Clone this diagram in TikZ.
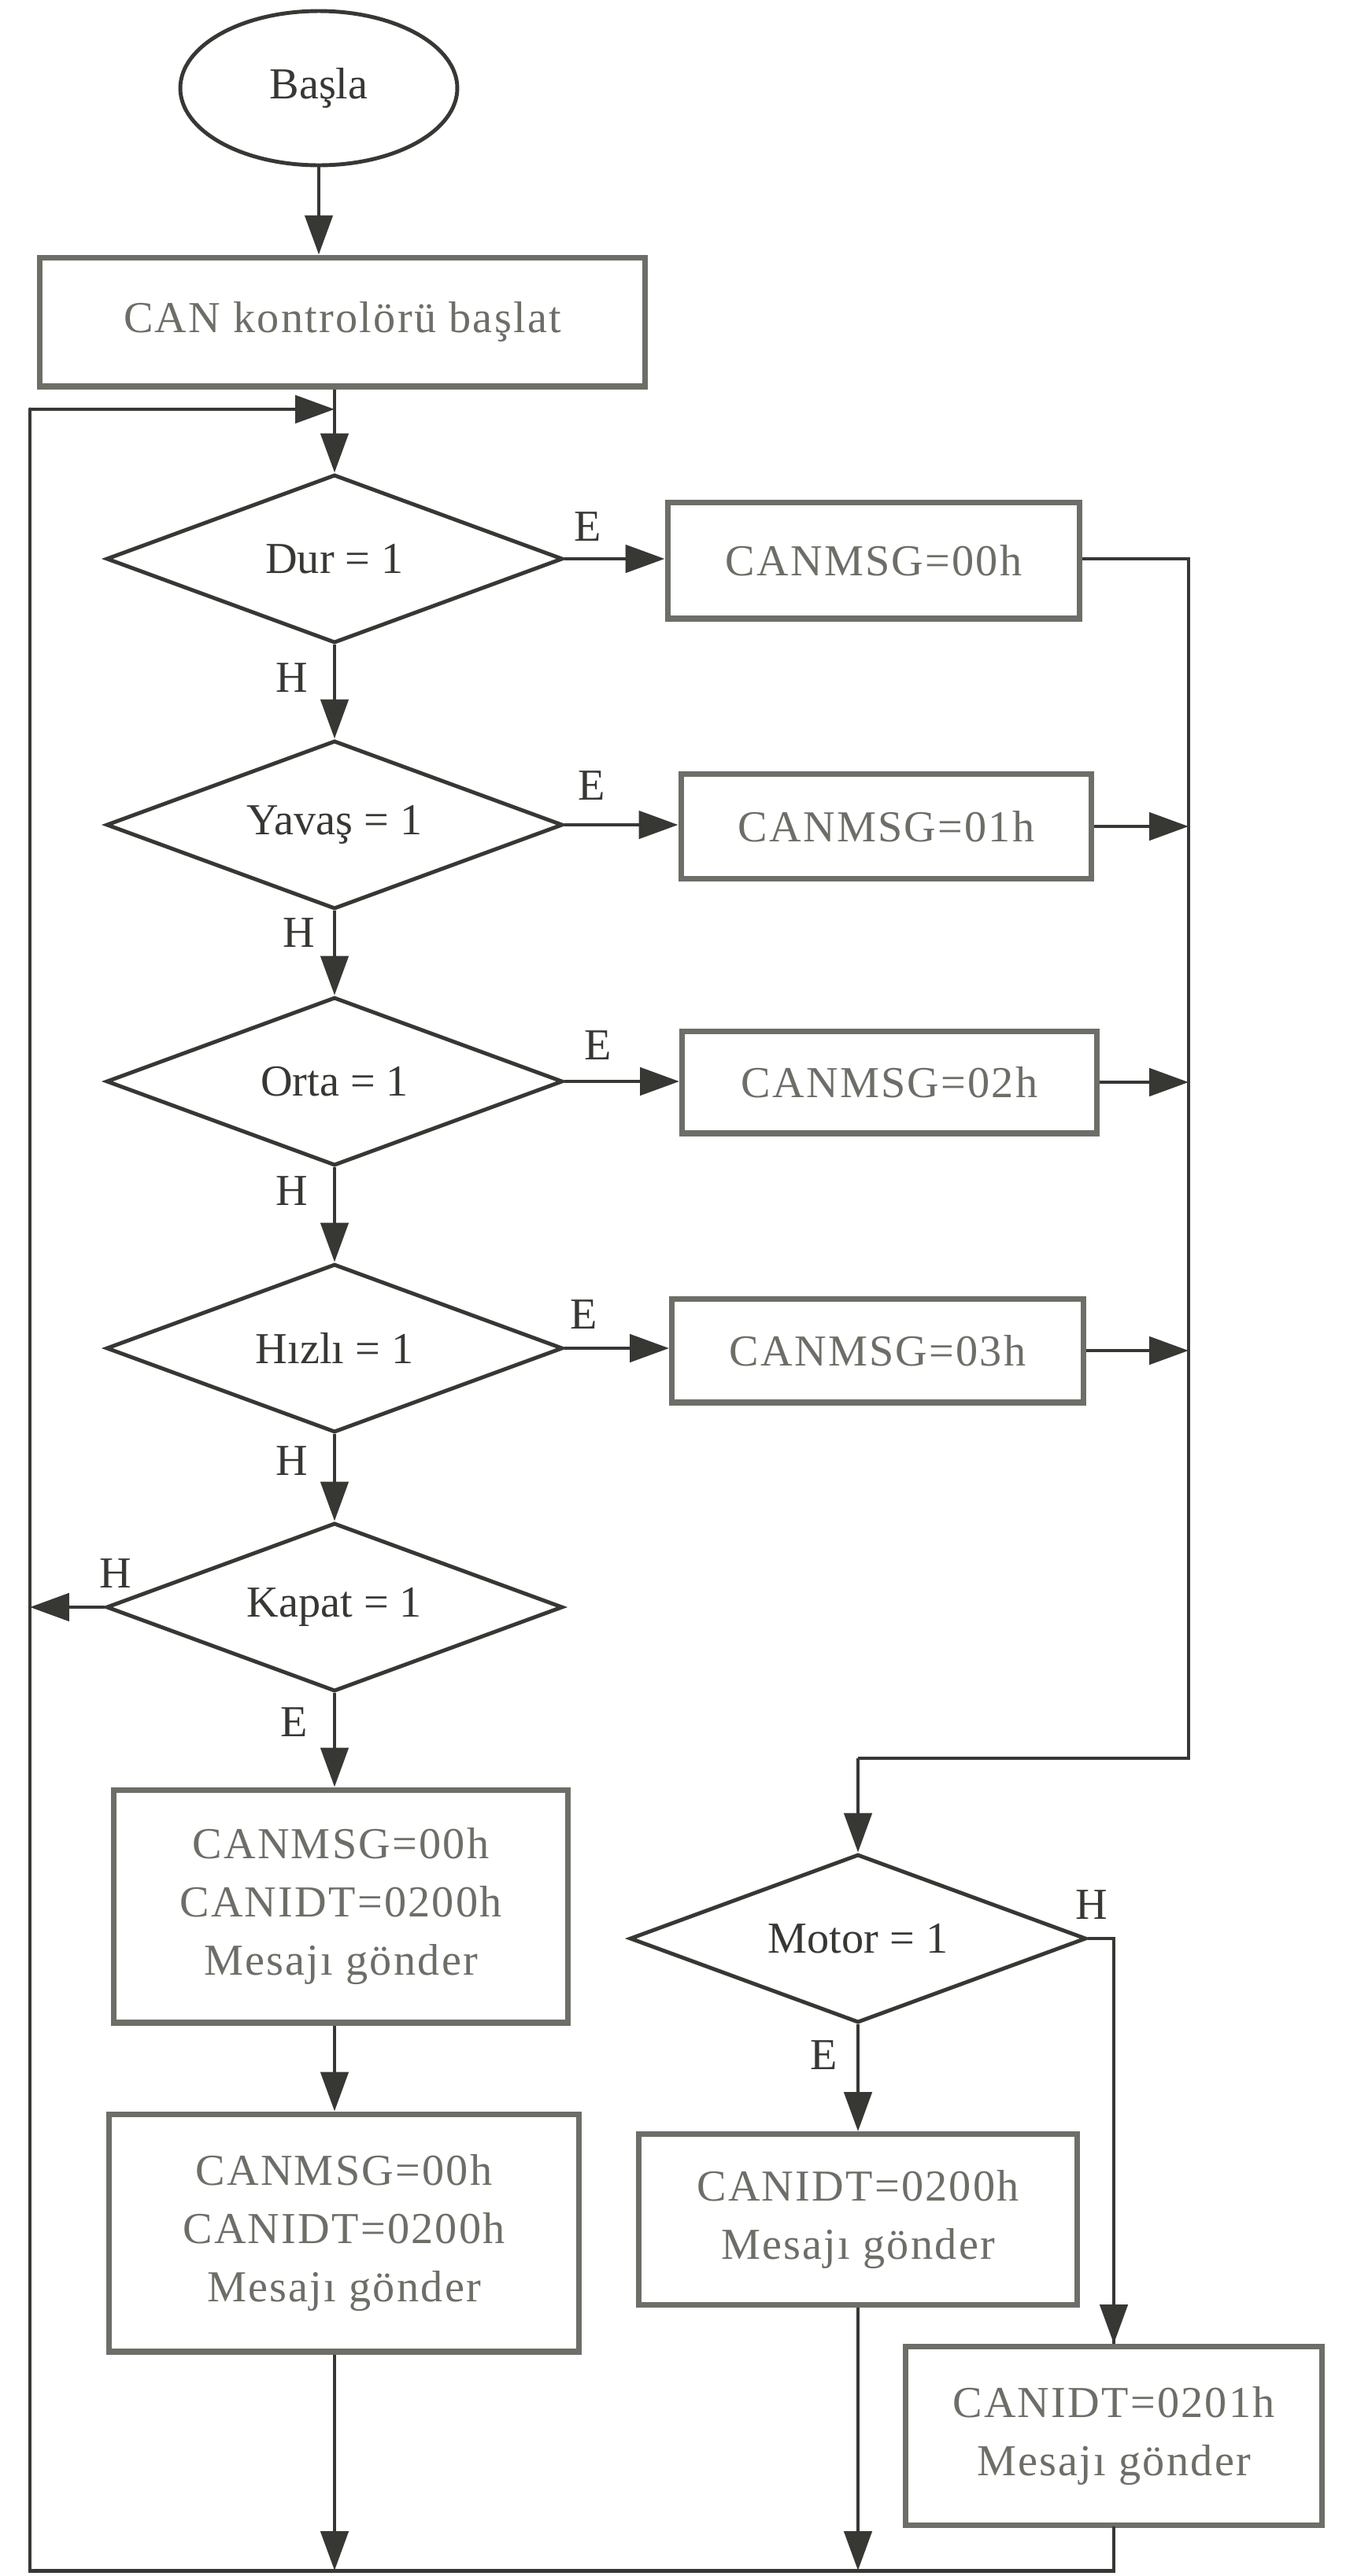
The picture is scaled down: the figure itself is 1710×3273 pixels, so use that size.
\documentclass[tikz,border=0pt]{standalone}
\usepackage{fontspec}
\setmainfont{Liberation Serif}
\newfontfamily\boxfont[LetterSpace=4]{Liberation Serif}
\usetikzlibrary{shapes.geometric,arrows.meta}
\definecolor{ink}{RGB}{55,55,52}
\definecolor{gink}{RGB}{110,110,104}
\begin{document}
\begin{tikzpicture}[x=0.02cm, y=-0.02cm,
  font=\fontsize{32}{42}\selectfont,
  box/.style={draw=gink, line width=4pt, text=gink, font=\boxfont\fontsize{32}{42}\selectfont, align=center, inner sep=0pt},
  dia/.style={diamond, draw=ink, line width=2.8pt, text=ink, minimum width=11.6cm, minimum height=4.28cm, aspect=2.7, inner sep=0pt},
  conn/.style={draw=ink, line width=2.8pt},
  arr/.style={conn, -{Triangle[length=1cm,width=0.7cm]}},
  lbl/.style={text=ink, inner sep=0pt}]
\useasboundingbox[fill=white] (0,0) rectangle (1710,3273);

% start
\node[ellipse, draw=ink, line width=2.8pt, minimum width=7.04cm, minimum height=3.92cm, text=ink] (start) at (405,112) {Başla};
\node[box, minimum width=15.38cm, minimum height=3.28cm] (init) at (435,409) {CAN kontrolörü başlat};

% main column decisions
\coordinate (J) at (425,520);
\node[dia] (dur) at (425,710) {Dur = 1};
\node[dia] (yav) at (425,1048) {Yavaş = 1};
\node[dia] (orta) at (425,1374) {Orta = 1};
\node[dia] (hizli) at (425,1713) {Hızlı = 1};
\node[dia] (kapat) at (425,2042) {Kapat = 1};

% right boxes
\node[box, minimum width=10.48cm, minimum height=2.96cm] (m0) at (1110,712) {CANMSG=00h};
\node[box, minimum width=10.44cm, minimum height=2.66cm] (m1) at (1126,1050) {CANMSG=01h};
\node[box, minimum width=10.54cm, minimum height=2.6cm] (m2) at (1130,1375) {CANMSG=02h};
\node[box, minimum width=10.46cm, minimum height=2.64cm] (m3) at (1115,1716) {CANMSG=03h};

% lower boxes
\node[box, minimum width=11.54cm, minimum height=5.92cm] (b1) at (433,2422) {CANMSG=00h\\CANIDT=0200h\\Mesajı gönder};
\node[box, minimum width=11.96cm, minimum height=6.04cm] (b2) at (437,2837) {CANMSG=00h\\CANIDT=0200h\\Mesajı gönder};
\node[dia] (motor) at (1090,2463) {Motor = 1};
\node[box, minimum width=11.14cm, minimum height=4.34cm] (b3) at (1090,2820) {CANIDT=0200h\\Mesajı gönder};
\node[box, minimum width=10.58cm, minimum height=4.54cm] (b4) at (1415,3095) {CANIDT=0201h\\Mesajı gönder};

% helper coordinates
\coordinate (R) at (1510,710);
\coordinate (RM) at (1510,2234);
\coordinate (TL) at (38,520);
\coordinate (BL) at (38,3266);

% labels
\node[lbl] (le1) at (747,669) {E};
\node[lbl] (le2) at (752,998) {E};
\node[lbl] (le3) at (760,1328) {E};
\node[lbl] (le4) at (742,1670) {E};
\node[lbl] (lh1) at (371,861) {H};
\node[lbl] (lh2) at (380,1185) {H};
\node[lbl] (lh3) at (371,1513) {H};
\node[lbl] (lh4) at (371,1856) {H};
\node[lbl] (lh5) at (147,1999) {H};
\node[lbl] (le5) at (374,2188) {E};
\node[lbl] (lh6) at (1387,2420) {H};
\node[lbl] (le6) at (1047,2611) {E};

% connectors
\draw[arr] (start.south) -- (start.south |- init.north);
\draw[conn] (J |- init.south) -- (J);
\draw[arr] (J) -- (dur.north);
\draw[arr] (dur.south) -- (yav.north);
\draw[arr] (yav.south) -- (orta.north);
\draw[arr] (orta.south) -- (hizli.north);
\draw[arr] (hizli.south) -- (kapat.north);
\draw[arr] (kapat.south) -- (kapat.south |- b1.north);
\draw[arr] (b1.south -| kapat.south) -- (kapat.south |- b2.north);

\draw[arr] (dur.east) -- (dur.east -| m0.west);
\draw[arr] (yav.east) -- (yav.east -| m1.west);
\draw[arr] (orta.east) -- (orta.east -| m2.west);
\draw[arr] (hizli.east) -- (hizli.east -| m3.west);

\draw[conn] (m0.east |- R) -- (R) -- (RM) -- (RM -| motor.north);
\draw[arr] (RM -| motor.north) -- (motor.north);
\draw[arr] (m1.east) -- (m1.east -| R);
\draw[arr] (m2.east) -- (m2.east -| R);
\draw[arr] (m3.east) -- (m3.east -| R);

\draw[arr] (kapat.west) -- (kapat.west -| TL);
\draw[arr] (motor.south) -- (b3.north);
\draw[conn] (motor.east) -| (b4.north);
\draw[arr] (motor.east -| b4.north) -- (b4.north);

\draw[arr] (kapat.south |- b2.south) -- (kapat.south |- BL);
\draw[arr] (b3.south) -- (b3.south |- BL);
\draw[conn, line cap=round] (b4.south) -- (b4.south |- BL) -- (BL) -- (TL);
\draw[arr] (TL) -- (J);
\end{tikzpicture}
\end{document}
